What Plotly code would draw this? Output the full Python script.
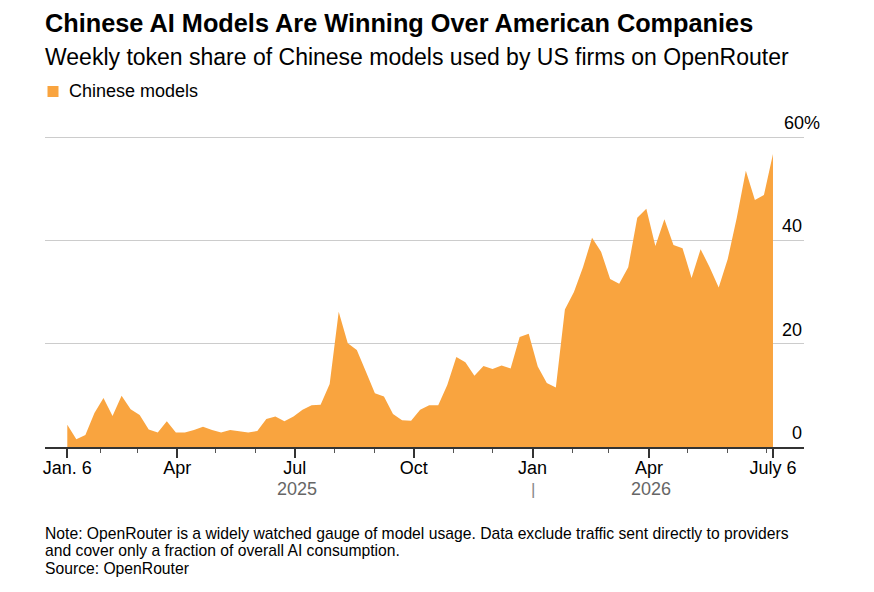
import plotly.graph_objects as go
import pandas as pd

# Semanas (lunes) desde el 6 de enero de 2025
start_date = "2025-01-06"
share_cn = [
    4.3, 1.5, 2.3, 6.6, 9.5, 6.0, 9.9, 7.3, 6.2, 3.4,
    2.8, 5.0, 2.8, 2.8, 3.3, 3.9, 3.3, 2.8, 3.3, 3.0,
    2.8, 3.1, 5.4, 5.9, 5.0, 5.9, 7.2, 8.1, 8.2, 12.2,
    26.2, 20.1, 18.8, 14.6, 10.4, 9.8, 6.4, 5.2, 5.1, 7.2,
    8.1, 8.1, 12.0, 17.4, 16.4, 13.8, 15.7, 15.1, 15.8, 15.2,
    21.3, 21.9, 15.6, 12.4, 11.5, 26.6, 30.0, 34.8, 40.5, 37.8,
    32.5, 31.6, 34.8, 44.4, 46.1, 38.9, 44.1, 39.1, 38.5, 32.7,
    38.3, 34.8, 30.9, 36.4, 44.4, 53.5, 47.8, 48.8, 56.7,
]
weeks = pd.date_range(start_date, periods=len(share_cn), freq="7D")

major_ticks = ["2025-01-06", "2025-04-01", "2025-07-01", "2025-10-01",
               "2026-01-01", "2026-04-01", "2026-07-06"]
major_labels = ["Jan. 6", "Apr", "Jul", "Oct", "Jan", "Apr", "July 6"]
minor_ticks = ["2025-02-01", "2025-03-01", "2025-05-01", "2025-06-01",
               "2025-08-01", "2025-09-01", "2025-11-01", "2025-12-01",
               "2026-02-01", "2026-03-01", "2026-05-01", "2026-06-01",
               "2026-07-01"]
y_ticks = [0, 20, 40, 60]
y_labels = ["0", "20", "40", "60%"]
note_lines = [
    "Note: OpenRouter is a widely watched gauge of model usage. "
    "Data exclude traffic sent directly to providers",
    "and cover only a fraction of overall AI consumption.",
    "Source: OpenRouter",
]

ORANGE = "#F9A43F"
FONT = "Liberation Sans"

# la página añade 8 px de margen arriba y a la izquierda
PAGE = 8
PLOT_L, PLOT_T, PLOT_W, PLOT_H = 45, 135, 759, 312
Y_MAX = 60.4  # deja la línea de 60 dentro del área


def px(x):
    return (x - PLOT_L) / PLOT_W


def py(y):
    return (PLOT_T + PLOT_H - y) / PLOT_H


fig = go.Figure()

fig.add_trace(go.Scatter(
    x=weeks, y=share_cn,
    mode="lines", fill="tozeroy",
    line=dict(color=ORANGE, width=0),
    fillcolor=ORANGE,
    name="Chinese models",
    showlegend=False,
    hoverinfo="skip",
))

fig.update_layout(
    width=874, height=592,
    margin=dict(l=PLOT_L - PAGE, r=874 - (PLOT_L - PAGE) - PLOT_W,
                t=PLOT_T - PAGE, b=592 - (PLOT_T - PAGE) - PLOT_H),
    paper_bgcolor="white", plot_bgcolor="white",
    font=dict(family=FONT, color="black"),
    xaxis=dict(
        type="date",
        range=["2024-12-19 18:00", "2026-07-30"],
        tickmode="array", tickvals=major_ticks, ticktext=major_labels,
        ticks="outside", ticklen=9, tickwidth=1.5, tickcolor="#333",
        ticklabelstandoff=-5,
        tickfont=dict(family=FONT, size=18, color="black"),
        showline=True, linecolor="#333", linewidth=1.5,
        showgrid=False, zeroline=False,
        minor=dict(tickmode="array", tickvals=minor_ticks, ticks="outside",
                   ticklen=4, tickwidth=1, tickcolor="#555", showgrid=False),
    ),
    yaxis=dict(
        range=[0, Y_MAX],
        tickmode="array", tickvals=y_ticks[1:],
        showticklabels=False,
        showgrid=True, gridcolor="#cccccc", gridwidth=1,
        zeroline=False, showline=False,
    ),
)

# etiquetas del eje Y, encima de la línea de la cuadrícula
for v, t in zip(y_ticks, y_labels):
    if t.endswith("%"):
        fig.add_annotation(x=px(782), xref="paper", xanchor="left",
                           y=v, yref="y", yanchor="middle", yshift=14,
                           text=t, showarrow=False,
                           font=dict(family=FONT, size=18, color="black"))
    else:
        fig.add_annotation(x=1, xref="paper", xanchor="right",
                           y=v, yref="y", yanchor="middle", yshift=14,
                           text=t, showarrow=False,
                           font=dict(family=FONT, size=18, color="black"))

# años debajo del eje X
for d, t in [("2025-07-03", "2025"), ("2026-04-03", "2026")]:
    fig.add_annotation(x=d, xref="x", y=py(489), yref="paper", yanchor="middle",
                       text=t, showarrow=False,
                       font=dict(family=FONT, size=18, color="#666"))
fig.add_annotation(x="2026-01-01", xref="x", y=py(489), yref="paper", yanchor="middle",
                   text="|", showarrow=False,
                   font=dict(family=FONT, size=17, color="#888"))

# título y subtítulo
fig.add_annotation(x=px(43), xref="paper", xanchor="left", y=py(23), yref="paper",
                   yanchor="middle", showarrow=False,
                   text="<b>Chinese AI Models Are Winning Over American Companies</b>",
                   font=dict(family=FONT, size=25.3, color="black"))
fig.add_annotation(x=px(43), xref="paper", xanchor="left", y=py(57), yref="paper",
                   yanchor="middle", showarrow=False,
                   text="Weekly token share of Chinese models used by US firms on OpenRouter",
                   font=dict(family=FONT, size=23, color="black"))

# leyenda
fig.add_shape(type="rect", xref="paper", yref="paper",
              x0=px(47.5), x1=px(58.5), y0=py(97), y1=py(86),
              fillcolor=ORANGE, line=dict(width=0))
fig.add_annotation(x=px(67), xref="paper", xanchor="left",
                   y=py(91), yref="paper", yanchor="middle",
                   showarrow=False, text="Chinese models",
                   font=dict(family=FONT, size=18, color="black"))

# nota y fuente
for i, line in enumerate(note_lines):
    fig.add_annotation(x=px(43), xref="paper", xanchor="left",
                       y=py(533 + 17.5 * i), yref="paper", yanchor="middle",
                       align="left", showarrow=False, text=line,
                       font=dict(family=FONT, size=15.7, color="black"))

fig.write_html("out.html")
